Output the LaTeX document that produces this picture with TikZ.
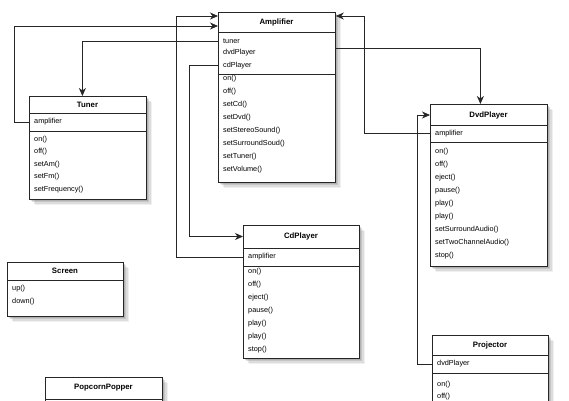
\documentclass[tikz,border=0pt]{standalone}
\usepackage{fontspec}
\setmainfont{Liberation Sans}
\usetikzlibrary{arrows.meta,shadows}
\tikzset{
  cls/.style={draw=black!85, line width=0.8pt, fill=white, rectangle, inner sep=0pt,
    drop shadow={opacity=0.12, shadow xshift=6pt, shadow yshift=-6pt},
    drop shadow={opacity=0.18, shadow xshift=4.5pt, shadow yshift=-4.5pt},
    drop shadow={opacity=0.25, shadow xshift=3pt, shadow yshift=-3pt},
    drop shadow={opacity=0.3, shadow xshift=1.5pt, shadow yshift=-1.5pt}},
  ttl/.style={font=\fontsize{7.8}{9}\selectfont\bfseries, inner sep=0pt, anchor=center},
  row/.style={font=\fontsize{7.3}{9}\selectfont, inner sep=0pt, anchor=west},
  sep/.style={draw=black!85, line width=0.6pt},
  arr/.style={draw=black!85, line width=0.8pt, -{Stealth[length=8pt,width=7pt,inset=2.5pt]}}
}
\begin{document}
\begin{tikzpicture}[x=1pt,y=-1pt]
\useasboundingbox (0,0) rectangle (569,400);
\clip (0,0) rectangle (569,400);

% Amplifier
\node[cls, minimum width=117pt, minimum height=170pt, anchor=north west] (amp) at (218,12) {};
\node[ttl] (ampT) at (276.5,22) {Amplifier};
\draw[sep] (218,32) -- (335,32);
\draw[sep] (218,74) -- (335,74);
\node[row] (ampTun) at (223,41) {tuner};
\node[row] (ampDvd) at (223,53) {dvdPlayer};
\node[row] (ampCd) at (223,65.5) {cdPlayer};
\node[row] at (223,79) {on()};
\node[row] at (223,92) {off()};
\node[row] at (223,105) {setCd()};
\node[row] at (223,118) {setDvd()};
\node[row] at (223,131) {setStereoSound()};
\node[row] at (223,144) {setSurroundSoud()};
\node[row] at (223,157) {setTuner()};
\node[row] at (223,170) {setVolume()};

% Tuner
\node[cls, minimum width=117pt, minimum height=103pt, anchor=north west] (tuner) at (29,96) {};
\node[ttl] (tunT) at (87.5,104.5) {Tuner};
\draw[sep] (29,113) -- (146,113);
\draw[sep] (29,131) -- (146,131);
\node[row] (tunAmp) at (34,122) {amplifier};
\node[row] at (34,139.5) {on()};
\node[row] at (34,152) {off()};
\node[row] at (34,164.5) {setAm()};
\node[row] at (34,177) {setFm()};
\node[row] at (34,189.5) {setFrequency()};

% DvdPlayer
\node[cls, minimum width=117pt, minimum height=162pt, anchor=north west] (dvd) at (430,104) {};
\node[ttl] (dvdT) at (488.5,115) {DvdPlayer};
\draw[sep] (430,125) -- (547,125);
\draw[sep] (430,142) -- (547,142);
\node[row] (dvdAmp) at (435,133.5) {amplifier};
\node[row] at (435,152) {on()};
\node[row] at (435,164.5) {off()};
\node[row] at (435,177.5) {eject()};
\node[row] at (435,190.5) {pause()};
\node[row] at (435,203.5) {play()};
\node[row] at (435,216.5) {play()};
\node[row] at (435,229.5) {setSurroundAudio()};
\node[row] at (435,242.5) {setTwoChannelAudio()};
\node[row] at (435,255.5) {stop()};

% CdPlayer
\node[cls, minimum width=116pt, minimum height=133pt, anchor=north west] (cd) at (243,225) {};
\node[ttl] (cdT) at (301,236.5) {CdPlayer};
\draw[sep] (243,248) -- (359,248);
\draw[sep] (243,266) -- (359,266);
\node[row] (cdAmp) at (248,257) {amplifier};
\node[row] at (248,272) {on()};
\node[row] at (248,285) {off()};
\node[row] at (248,298) {eject()};
\node[row] at (248,311) {pause()};
\node[row] at (248,324) {play()};
\node[row] at (248,337) {play()};
\node[row] at (248,350) {stop()};

% Screen
\node[cls, minimum width=116pt, minimum height=54pt, anchor=north west] (scr) at (7,262) {};
\node[ttl] (scrT) at (65,271) {Screen};
\draw[sep] (7,280) -- (123,280);
\node[row] at (12,289) {up()};
\node[row] at (12,302) {down()};

% PopcornPopper
\node[cls, minimum width=117pt, minimum height=100pt, anchor=north west] (pop) at (45,377) {};
\node[ttl] (popT) at (103.5,388) {PopcornPopper};
\draw[sep] (45,399) -- (162,399);

% Projector
\node[cls, minimum width=116pt, minimum height=100pt, anchor=north west] (proj) at (432,335) {};
\node[ttl] (projT) at (490,345.5) {Projector};
\draw[sep] (432,355) -- (548,355);
\draw[sep] (432,373) -- (548,373);
\node[row] (projDvd) at (437,364) {dvdPlayer};
\node[row] at (437,384.5) {on()};
\node[row] at (437,397) {off()};

% Connectors
\draw[arr] (tuner.west |- tunAmp) -- ++(-15,0) |- ([yshift=-14pt]amp.north west);
\draw[arr] (amp.west |- ampTun) -| ([xshift=-5.5pt]tuner.north);
\draw[arr] (cd.west |- cdAmp) -- ++(-67,0) |- ([yshift=-4pt]amp.north west);
\draw[arr] (amp.west |- ampCd) -- ++(-29,0) |- (cd.west |- cdT);
\draw[arr] ([yshift=5pt]amp.east |- ampDvd) -| ([xshift=-8.5pt]dvd.north);
\draw[arr] (dvd.west |- dvdAmp) -- ++(-66,0) |- ([yshift=-4pt]amp.north east);
\draw[arr] (proj.west |- projDvd) -- ++(-15,0) |- ([yshift=-11pt]dvd.north west);
\end{tikzpicture}
\end{document}
